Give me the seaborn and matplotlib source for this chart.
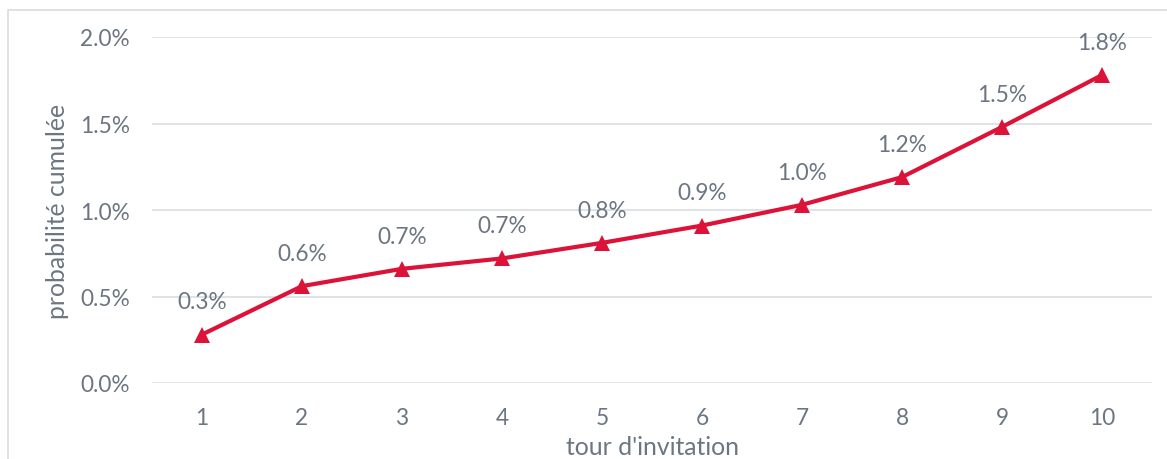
import matplotlib
matplotlib.use("Agg")
import matplotlib.pyplot as plt
from matplotlib.patches import Rectangle
from matplotlib.ticker import FuncFormatter
import seaborn as sns
import pandas as pd

# Cumulative probability per invitation round (in %)
rounds = [1, 2, 3, 4, 5, 6, 7, 8, 9, 10]
cum_prob = [0.28, 0.56, 0.66, 0.72, 0.81, 0.91, 1.03, 1.19, 1.48, 1.78]
y_ticks = [0.0, 0.5, 1.0, 1.5, 2.0]

df = pd.DataFrame({"round": rounds, "prob": cum_prob})

sns.set_theme(style="white")
plt.rcParams["font.family"] = ["Lato", "DejaVu Sans"]

text_col = "#6b7682"
line_col = "#dc1238"
grid_col = "#dde1e3"

fig = plt.figure(figsize=(11.67, 4.60), dpi=100)
ax = fig.add_axes([152 / 1167, 76 / 460, 1000 / 1167, 346 / 460])

# Outer chart frame
fig.patches.append(Rectangle((8 / 1167, -0.05), 1.2, (460 - 11) / 460 + 0.05,
                             transform=fig.transFigure, fill=False,
                             edgecolor="#d9dcdd", linewidth=1.2, zorder=0))

sns.lineplot(data=df, x="round", y="prob", ax=ax, color=line_col, linewidth=3,
             marker="^", markersize=11, markeredgewidth=0, zorder=3)

for x, y in zip(rounds, cum_prob):
    ax.annotate(f"{y:.1f}%", (x, y), xytext=(0, 16), textcoords="offset points",
                ha="center", va="bottom", fontsize=16.3, color=text_col)

ax.set_xlim(0.5, 10.5)
ax.set_ylim(0, 2.0)
ax.set_xticks(rounds)
ax.set_yticks(y_ticks)
ax.yaxis.set_major_formatter(FuncFormatter(lambda v, p: f"{v:.1f}%"))
ax.grid(axis="y", color=grid_col, linewidth=1.3)
ax.grid(axis="x", visible=False)
for s in ax.spines.values():
    s.set_visible(False)
ax.tick_params(axis="both", length=0, labelsize=16.3, labelcolor=text_col)
ax.tick_params(axis="x", pad=17)
ax.tick_params(axis="y", pad=16)
ax.set_xlabel("tour d'invitation", fontsize=17.8, color=text_col, labelpad=5)
ax.set_ylabel("probabilité cumulée", fontsize=17.8, color=text_col, labelpad=8)
ax.set_axisbelow(True)

fig.savefig("out.png", dpi=100)
